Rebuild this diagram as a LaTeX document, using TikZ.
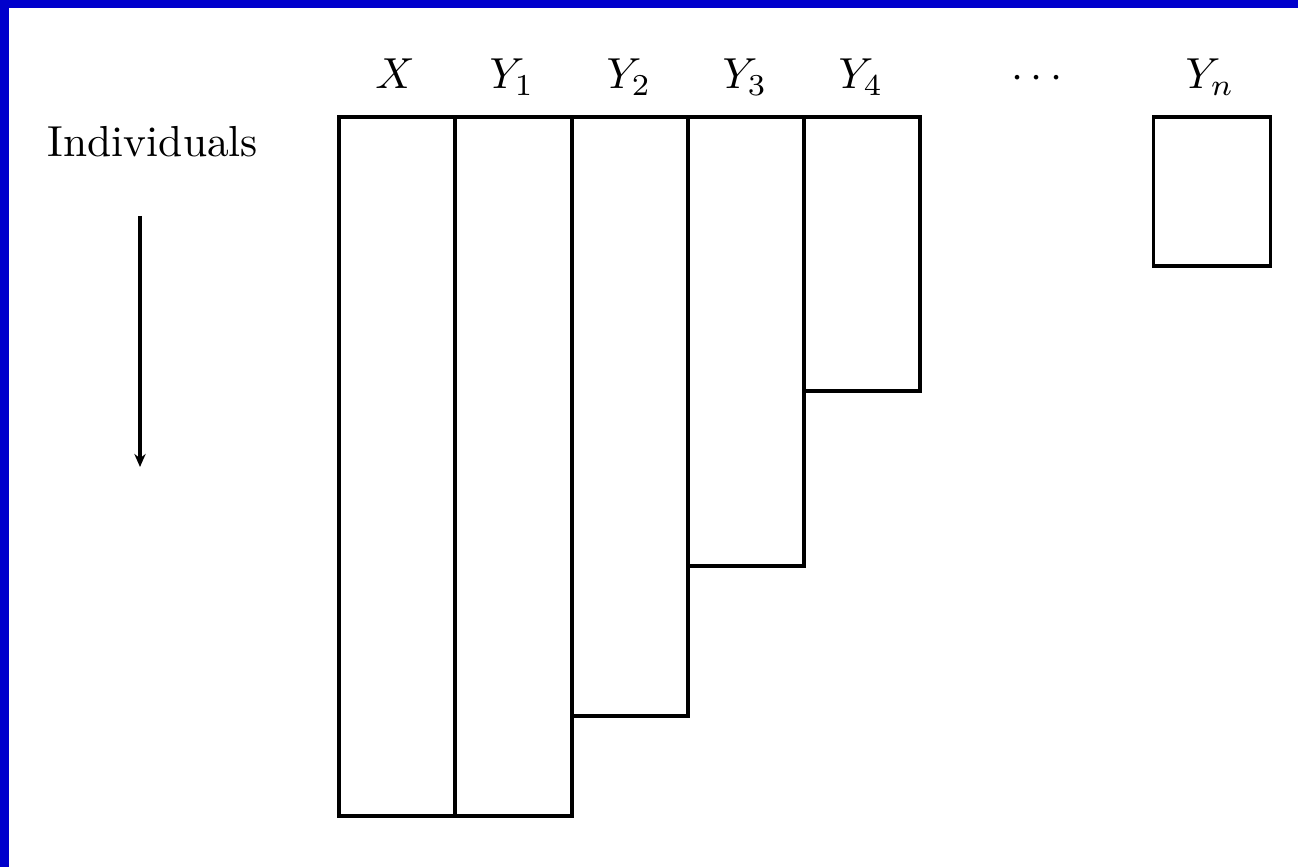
\documentclass[tikz,border=0pt]{standalone}
\usetikzlibrary{arrows.meta}
\definecolor{frameblue}{HTML}{0000CC}
\newdimen\pxu \pxu=0.2304pt
\tikzset{
  col/.style={draw=black, line width=0.7pt, anchor=north west, inner sep=0pt, outer sep=0pt},
  lab/.style={anchor=base, inner sep=0pt},
}
\begin{document}
\begin{tikzpicture}[x=0.2304pt, y=-0.2304pt]
\useasboundingbox (0,0) rectangle (1298,867);
\fill[white] (0,0) rectangle (1298,867);
\fill[frameblue] (0,0) rectangle (1298,8);
\fill[frameblue] (0,0) rectangle (8.5,867);
% columns
\node[col, minimum width=116\pxu, minimum height=699\pxu] (X)  at (339,117) {};
\node[col, minimum width=117\pxu, minimum height=699\pxu] (Y1) at (455,117) {};
\node[col, minimum width=116\pxu, minimum height=599\pxu] (Y2) at (572,117) {};
\node[col, minimum width=116\pxu, minimum height=449\pxu] (Y3) at (688,117) {};
\node[col, minimum width=116\pxu, minimum height=274\pxu] (Y4) at (804,117) {};
\node[col, minimum width=117\pxu, minimum height=149\pxu] (Yn) at (1153,117) {};
% labels
\node[lab] (lX)  at (395,89) {$X$};
\node[lab] (lY1) at (512,89) {$Y_1$};
\node[lab] (lY2) at (629,89) {$Y_2$};
\node[lab] (lY3) at (745,89) {$Y_3$};
\node[lab] (lY4) at (861,89) {$Y_4$};
\node[lab] (ldots) at (1037,89) {$\cdots$};
\node[lab] (lYn) at (1210,89) {$Y_n$};
\node[lab] (ind) at (153,157) {Individuals};
\coordinate (a1) at (140,216);
\coordinate (a2) at (140,467);
\draw[line width=0.7pt, -{Stealth[length=3pt,width=2.6pt]}] (a1) -- (a2);
\end{tikzpicture}
\end{document}
